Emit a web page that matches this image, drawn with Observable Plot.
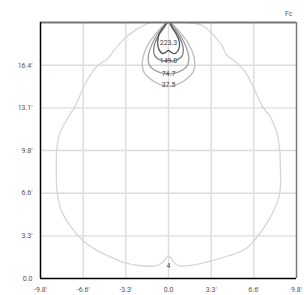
<!DOCTYPE html>
<html>
<head>
<meta charset="utf-8">
<script src="https://cdn.jsdelivr.net/npm/d3@7"></script>
<script src="https://cdn.jsdelivr.net/npm/@observablehq/plot@0.6"></script>
<style>
  html, body { margin: 0; padding: 0; background: #fff; }
  #chart svg { display: block; }
</style>
</head>
<body>
<div id="chart"></div>
<script>
// Axis extents and ticks (feet)
const xDomain = [-9.84, 9.84];
const yDomain = [0, 19.69];
const xTickValues = [-9.84, -6.56, -3.28, 0, 3.28, 6.56, 9.84];
const xTickLabels = ["-9.8'", "-6.6'", "-3.3'", "0.0", "3.3'", "6.6'", "9.8'"];
const yTickValues = [0, 3.28, 6.56, 9.84, 13.12, 16.40];
const yTickLabels = ["0.0", "3.3'", "6.6'", "9.8'", "13.1'", "16.4'"];
const unitLabel = "Fc";

// Iso-footcandle contours [x, y] in feet
const contourLevels = ["4", "37.5", "74.7", "149.0", "223.3"];
const contour4 = [
  [-1.45, 19.69], [-2.36, 19.22], [-3.39, 18.45], [-4.28, 17.43], [-4.66, 16.92],
  [-5.42, 16.40], [-5.94, 15.76], [-6.45, 14.86], [-7.21, 13.19], [-7.72, 12.39],
  [-8.36, 11.14], [-8.60, 9.83], [-8.62, 8.55], [-8.62, 7.52], [-8.54, 6.50],
  [-8.23, 5.21], [-7.47, 3.93], [-6.57, 2.90], [-5.68, 2.26], [-4.66, 1.75],
  [-3.39, 1.23], [-2.11, 0.98], [-0.96, 0.98], [-0.45, 1.23], [0, 1.75],
  [0.34, 1.37], [0.64, 1.06], [1.03, 0.96], [2.10, 1.06], [3.32, 1.37],
  [4.62, 1.75], [5.92, 2.27], [6.69, 3.04], [7.68, 4.45], [8.32, 5.74],
  [8.58, 6.76], [8.62, 7.53], [8.60, 8.56], [8.55, 9.85], [8.35, 11.16],
  [7.84, 12.41], [7.22, 13.24], [6.46, 14.86], [5.92, 15.86], [5.16, 16.67],
  [4.47, 17.19], [4.09, 17.96], [3.32, 18.87], [2.56, 19.48], [1.41, 19.69]
];
const contour37 = [
  [-0.15, 19.69], [-0.64, 19.22], [-1.10, 18.68], [-1.48, 18.14], [-1.79, 17.53],
  [-1.98, 16.91], [-2.02, 16.37], [-1.87, 15.84], [-1.41, 15.37], [-0.80, 14.99],
  [0, 14.78], [0.80, 14.99], [1.41, 15.37], [1.87, 15.84], [2.02, 16.37],
  [1.98, 16.91], [1.79, 17.53], [1.48, 18.14], [1.10, 18.68], [0.64, 19.22], [0.15, 19.69]
];
const contour74 = [
  [-0.12, 19.69], [-0.49, 19.26], [-0.87, 18.76], [-1.22, 18.14], [-1.45, 17.53],
  [-1.56, 16.99], [-1.48, 16.45], [-1.14, 16.07], [-0.64, 15.84], [0, 15.76],
  [0.64, 15.84], [1.14, 16.07], [1.48, 16.45], [1.56, 16.99], [1.45, 17.53],
  [1.22, 18.14], [0.87, 18.76], [0.49, 19.26], [0.12, 19.69]
];
const contour149 = [
  [-0.10, 19.69], [-0.34, 19.30], [-0.72, 18.76], [-1.03, 18.14], [-1.14, 17.61],
  [-1.06, 17.14], [-0.72, 16.83], [-0.26, 16.72], [0, 16.78], [0.26, 16.72],
  [0.72, 16.83], [1.06, 17.14], [1.14, 17.61], [1.03, 18.14], [0.72, 18.76],
  [0.34, 19.30], [0.10, 19.69]
];
const contour223 = [
  [-0.08, 19.69], [-0.35, 19.38], [-0.71, 18.84], [-0.83, 18.20], [-0.76, 17.68],
  [-0.45, 17.30], [-0.20, 17.41], [0, 17.55], [0.18, 17.41], [0.49, 17.30],
  [0.80, 17.68], [0.83, 18.20], [0.57, 18.84], [0.22, 19.38], [0.08, 19.69]
];
// label positions [x, y] for each level
const labelPositions = [[0, 0.97], [0, 14.88], [0, 15.78], [0, 16.73], [0, 18.17]];

const contourColors = ["#d6d6d6", "#bdbdbd", "#9f9f9f", "#7d7d7d", "#555555"];

const contourSets = [contour4, contour37, contour74, contour149, contour223];
const rows = [];
contourSets.forEach((pts, i) => pts.forEach(([x, y]) => rows.push({level: contourLevels[i], x, y})));
const labels = contourLevels.map((lv, i) => ({level: lv, x: labelPositions[i][0], y: labelPositions[i][1]}));

const fontFamily = "Roboto, 'DejaVu Sans', sans-serif";
const fmtX = d => xTickLabels[xTickValues.indexOf(d)];
const fmtY = d => yTickLabels[yTickValues.indexOf(d)];

const chart = Plot.plot({
  width: 304,
  height: 295,
  marginLeft: 40,
  marginRight: 8,
  marginTop: 22,
  marginBottom: 17,
  style: {fontFamily, fontSize: "7px", background: "#fff", overflow: "visible"},
  x: {domain: xDomain, ticks: xTickValues},
  y: {domain: yDomain, ticks: yTickValues},
  color: {domain: contourLevels, range: contourColors},
  marks: [
    Plot.gridX(xTickValues.slice(1, -1), {stroke: "#dcdcdc", strokeOpacity: 1, strokeWidth: 1.4}),
    Plot.gridY(yTickValues.slice(1), {stroke: "#dcdcdc", strokeOpacity: 1, strokeWidth: 1.4}),
    Plot.line(rows, {x: "x", y: "y", z: "level", stroke: "level", strokeWidth: 1.3, curve: "catmull-rom", clip: true}),
    Plot.text(labels, {x: "x", y: "y", text: "level", fill: "#444", fontSize: 7, dx: 0}),
    Plot.ruleY([yDomain[1]], {stroke: "#777", strokeWidth: 2}),
    Plot.ruleX([xDomain[1]], {stroke: "#777", strokeWidth: 1.5}),
    Plot.ruleX([xDomain[0]], {stroke: "#000", strokeWidth: 1.5}),
    Plot.ruleY([yDomain[0]], {stroke: "#000", strokeWidth: 1.5}),
    Plot.axisX(xTickValues, {tickSize: 0, tickPadding: 9, tickFormat: fmtX, fill: "#555", label: null}),
    Plot.axisY(yTickValues, {tickSize: 0, tickPadding: 8, tickFormat: fmtY, fill: "#555", label: null}),
    Plot.text([unitLabel], {frameAnchor: "top-right", dx: -4, dy: -11, fill: "#555", fontSize: 7, textAnchor: "end"})
  ]
});
document.getElementById("chart").appendChild(chart);
</script>
</body>
</html>
